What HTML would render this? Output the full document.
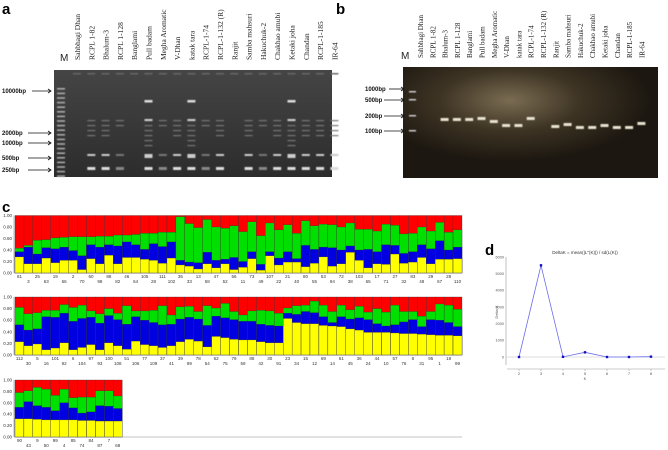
<!DOCTYPE html>
<html><head><meta charset="utf-8">
<style>
html,body{margin:0;padding:0;background:#fff;width:668px;height:450px;overflow:hidden}
svg{display:block;font-family:"Liberation Sans",sans-serif}
.ser{font-family:"Liberation Serif",serif}
</style></head>
<body>
<svg id="fig" width="668" height="450" viewBox="0 0 668 450">
<defs>
<radialGradient id="glow" cx="0.42" cy="0.3" r="0.55">
<stop offset="0" stop-color="#7a6c52"/><stop offset="0.5" stop-color="#3e3424"/><stop offset="1" stop-color="#1c1710"/>
</radialGradient>
<linearGradient id="gelA" x1="0" y1="0" x2="0" y2="1">
<stop offset="0" stop-color="#454545"/><stop offset="1" stop-color="#2c2c2c"/>
</linearGradient>
<filter id="soft" x="-20%" y="-50%" width="140%" height="200%"><feGaussianBlur stdDeviation="0.5"/></filter>
</defs>
<text x="2" y="14" font-size="15" font-weight="bold">a</text>
<text x="336" y="14" font-size="15" font-weight="bold">b</text>
<text x="2" y="212" font-size="15" font-weight="bold">c</text>
<text x="485" y="255" font-size="15" font-weight="bold">d</text>
<g id="gA"></g>
<g id="gB"></g>
<g id="gC"></g>
<g id="gD"></g>
</svg>
<script>
const lanesA=["Sahbhagi Dhan","RCPL 1-82","Bhalum-3","RCPL 1-128","Banglami","Pull badam","Megha Aromatic","V-Dhan","katak tara","RCPL-1-74","RCPL-1-132 (R)","Ranjit","Samba mahsuri","Hakuchuk-2","Chakhao amubi","Ketaki joha","Chandan","RCPL-1-185","IR-64"];
const lanesB=lanesA;
const ladderA=["10000bp","2000bp","1000bp","500bp","250bp"];
const ladderB=["1000bp","500bp","200bp","100bp"];
const row1Labels=[81,3,25,63,19,66,2,70,60,98,88,82,46,64,105,28,111,102,35,33,13,58,47,52,56,11,73,49,107,22,21,40,80,55,53,94,72,38,103,65,17,71,27,32,83,48,29,67,28,110];
const row1Yellow=[.28,.16,.16,.26,.18,.22,.22,.06,.25,.16,.31,.16,.27,.27,.24,.22,.17,.26,.14,.12,.07,.16,.09,.16,.06,.10,.25,.05,.30,.14,.19,.19,.11,.17,.28,.12,.16,.36,.22,.09,.16,.15,.33,.17,.19,.27,.16,.24,.24,.25];
const row1Blue=[.37,.45,.33,.44,.42,.45,.39,.30,.49,.45,.49,.47,.54,.49,.41,.51,.46,.54,.22,.19,.18,.36,.22,.24,.27,.20,.37,.15,.37,.26,.37,.25,.48,.41,.45,.44,.40,.47,.40,.41,.37,.49,.48,.34,.37,.49,.42,.56,.40,.45];
const row1Green=[.43,.48,.57,.58,.61,.62,.63,.63,.63,.64,.64,.66,.66,.67,.69,.69,.71,.71,.98,.86,.79,.93,.80,.78,.82,.72,.89,.65,.87,.75,.84,.69,.91,.82,.85,.84,.80,.87,.76,.76,.73,.85,.83,.68,.69,.80,.73,.88,.71,.75];
const row2Labels=[112,30,5,16,101,92,6,104,97,93,100,108,51,106,77,109,37,41,39,89,78,54,62,75,79,59,88,42,30,91,23,34,15,12,69,14,61,45,36,24,44,10,57,76,8,31,95,1,18,99];
const row2Yellow=[.23,.16,.19,.09,.12,.21,.09,.13,.18,.09,.21,.16,.10,.24,.18,.16,.13,.16,.23,.27,.24,.14,.32,.30,.27,.26,.26,.23,.21,.21,.63,.56,.54,.54,.51,.50,.49,.45,.43,.39,.39,.39,.38,.37,.37,.36,.35,.34,.34,.33];
const row2Blue=[.52,.43,.45,.66,.65,.72,.58,.63,.65,.55,.68,.61,.53,.66,.60,.56,.52,.53,.62,.65,.62,.51,.67,.64,.61,.58,.58,.53,.51,.50,.72,.70,.75,.73,.66,.56,.66,.62,.64,.61,.54,.50,.52,.57,.61,.49,.61,.60,.56,.49];
const row2Green=[.82,.71,.73,.77,.77,.87,.82,.86,.76,.71,.80,.72,.85,.76,.76,.77,.85,.69,.83,.84,.75,.85,.81,.89,.75,.69,.76,.77,.76,.72,.81,.85,.86,.93,.86,.75,.86,.78,.84,.74,.80,.74,.86,.75,.75,.67,.75,.88,.86,.79];
const row3Labels=[90,43,9,50,99,4,85,74,84,87,7,68];
const row3Yellow=[.32,.32,.31,.30,.30,.30,.30,.29,.29,.28,.28,.28];
const row3Blue=[.52,.62,.55,.52,.46,.60,.51,.42,.44,.55,.54,.50];
const row3Green=[.78,.81,.87,.84,.73,.84,.69,.70,.70,.81,.81,.72];
const yTicks=["0.00","0.20","0.40","0.60","0.80","1.00"];
const kValues=[2,3,4,5,6,7,8];
const deltaK=[0,5500,10,280,0,0,20];
const dkTicks=[0,1000,2000,3000,4000,5000,6000];

const NS="http://www.w3.org/2000/svg";
function mk(p,tag,attrs,txt){const e=document.createElementNS(NS,tag);for(const k in attrs)e.setAttribute(k,attrs[k]);if(txt!==undefined)e.textContent=txt;p.appendChild(e);return e;}

(function(){
const g=document.getElementById('gA');
const x0=54,y0=70,w=278,h=107;
let r=mk(g,'rect',{x:x0,y:y0,width:w,height:h,fill:'url(#gelA)'});

let m=mk(g,'text',{x:60,y:61,'font-size':10,fill:'#222'},'M');

const bg=mk(g,'g',{filter:'url(#soft)'});
for(let i=0;i<20;i++){mk(bg,'rect',{x:57,y:y0+18+i*4.6,width:8,height:1.6,fill:'#aaa'});}
const laddY=[91,133,143,158,170];
ladderA.forEach((t,i)=>{
 let tx=mk(g,'text',{x:2,y:laddY[i]+2,'font-size':6,'font-weight':'bold',fill:'#111'},t);
 
 mk(g,'line',{x1:t.length>6?32:28,y1:laddY[i],x2:51,y2:laddY[i],stroke:'#111','stroke-width':0.8});
 mk(g,'path',{d:`M48 ${laddY[i]-2}L51 ${laddY[i]}L48 ${laddY[i]+2}`,stroke:'#111',fill:'none','stroke-width':0.8});
});
const bright=[0,2,2,1,0,3,1,2,3,1,2,0,2,1,2,3,2,2,2];
lanesA.forEach((n,i)=>{
 const cx=77+i*14.3;
 let t=mk(g,'text',{class:'ser',x:0,y:0,'font-size':7.5,fill:'#222',transform:`translate(${cx+3},60) rotate(-90)`},n);
 
 mk(bg,'rect',{x:cx-4,y:y0+3,width:8,height:1.5,fill:'#666'});
 const b=bright[i];
 if(b>0){
  mk(bg,'rect',{x:cx-4,y:167,width:8,height:3,fill:b>1?'#ddd':'#888'});
  mk(bg,'rect',{x:cx-4,y:154,width:8,height:b>2?4:2,fill:b>1?'#ccc':'#777'});
  for(let k=0;k<b*2;k++)mk(bg,'rect',{x:cx-4,y:120+k*5,width:8,height:1.2,fill:'#777'});
  if(b>2){mk(bg,'rect',{x:cx-4,y:100,width:8,height:2.5,fill:'#ddd'});mk(bg,'rect',{x:cx-4,y:119,width:8,height:2,fill:'#ccc'});}
 }
});
})();

(function(){
const g=document.getElementById('gB');
const x0=403,y0=67,w=255,h=111;
let r=mk(g,'rect',{x:x0,y:y0,width:w,height:h,fill:'url(#glow)'});

let m=mk(g,'text',{x:401,y:59,'font-size':10,fill:'#222'},'M');

const laddY=[89,100,116,131];
const bg=mk(g,'g',{filter:'url(#soft)'});
ladderB.forEach((t,i)=>{
 let tx=mk(g,'text',{x:365,y:laddY[i]+2,'font-size':6,'font-weight':'bold',fill:'#111'},t);
 
 mk(g,'line',{x1:t.length>5?389:384,y1:laddY[i],x2:404,y2:laddY[i],stroke:'#111','stroke-width':0.8});
 mk(g,'path',{d:`M401 ${laddY[i]-2}L404 ${laddY[i]}L401 ${laddY[i]+2}`,stroke:'#111',fill:'none','stroke-width':0.8});
 mk(bg,'rect',{x:409,y:laddY[i]+(i==0?2:-1),width:7,height:1.5,fill:'#ccc'});
});
const bandY=[0,0,118,118,118,117,120,124,124,117,0,125,123,126,126,124,126,126,122];
lanesB.forEach((n,i)=>{
 const cx=420+i*12.3;
 let t=mk(g,'text',{class:'ser',x:0,y:0,'font-size':7,fill:'#222',transform:`translate(${cx+3},58) rotate(-90)`},n);
 
 if(bandY[i])mk(bg,'rect',{x:cx-4,y:bandY[i],width:8,height:3,fill:'#e8e2d0'});
});
})();

(function(){
const g=document.getElementById('gC');
const rows=[
 {L:row1Labels,Y:row1Yellow,B:row1Blue,G:row1Green,top:215.5,bot:273,x0:15},
 {L:row2Labels,Y:row2Yellow,B:row2Blue,G:row2Green,top:297,bot:355,x0:15},
 {L:row3Labels,Y:row3Yellow,B:row3Blue,G:row3Green,top:380,bot:437,x0:15}];
const bw=8.94;
rows.forEach((R,ri)=>{
 const sy=v=>R.bot-v*(R.bot-R.top);
 const xs=i=>R.x0+i*bw;
 R.L.forEach((lab,i)=>{
  const x=xs(i);
  let e;
  e=mk(g,'rect',{x:x,y:R.top,width:bw,height:R.bot-R.top,fill:'#ff0000',stroke:'#333','stroke-width':0.3});
  
  e=mk(g,'rect',{x:x,y:sy(R.G[i]),width:bw,height:sy(0)-sy(R.G[i]),fill:'#00e000',stroke:'#333','stroke-width':0.3});
  
  e=mk(g,'rect',{x:x,y:sy(R.B[i]),width:bw,height:sy(0)-sy(R.B[i]),fill:'#0000e0',stroke:'#333','stroke-width':0.3});
  
  e=mk(g,'rect',{x:x,y:sy(R.Y[i]),width:bw,height:sy(0)-sy(R.Y[i]),fill:'#ffff00',stroke:'#333','stroke-width':0.3});
  
  e=mk(g,'text',{x:x+bw/2,y:R.bot+(i%2?10:5),'font-size':4.5,'text-anchor':'middle',fill:'#333'},String(lab));
  
 });
 mk(g,'line',{x1:14,y1:R.bot,x2:R.x0+(ri==2?50:R.L.length)*bw,y2:R.bot,stroke:'#888','stroke-width':0.6});
 mk(g,'line',{x1:14,y1:R.top,x2:14,y2:R.bot,stroke:'#888','stroke-width':0.6});
 yTicks.forEach((t,k)=>{
  const v=parseFloat(t);
  let e=mk(g,'text',{x:12,y:sy(v)+1.5,'font-size':4.5,'text-anchor':'end',fill:'#333'},t);
  
 });
});
})();

(function(){
const g=document.getElementById('gD');
const sx=k=>519+(k-2)*22;
const sy=v=>357-v*(100/6000);
let e=mk(g,'text',{x:585,y:254,'font-size':4.5,'text-anchor':'middle',fill:'#333'},"DeltaK = mean(|L''(K)|) / sd(L(K))");

mk(g,'line',{x1:506,y1:257,x2:506,y2:365,stroke:'#999','stroke-width':0.6});
mk(g,'line',{x1:507,y1:369,x2:665,y2:369,stroke:'#999','stroke-width':0.6});
mk(g,'line',{x1:506,y1:sy(0),x2:665,y2:sy(0),stroke:'#bbb','stroke-width':0.5});
dkTicks.forEach(t=>{
 let e=mk(g,'text',{x:504,y:sy(t)+1.3,'font-size':3.8,'text-anchor':'end',fill:'#555'},String(t));
 
});
kValues.forEach(k=>{
 mk(g,'line',{x1:sx(k),y1:369,x2:sx(k),y2:371,stroke:'#999','stroke-width':0.5});
 let e=mk(g,'text',{x:sx(k),y:375,'font-size':4,'text-anchor':'middle',fill:'#555'},String(k));
 
});
e=mk(g,'text',{x:585,y:380,'font-size':4,'text-anchor':'middle',fill:'#555'},'K');

e=mk(g,'text',{x:0,y:0,'font-size':4,'text-anchor':'middle',fill:'#555',transform:'translate(498,312) rotate(-90)'},'Delta K');

const pts=kValues.map((k,i)=>sx(k)+','+sy(deltaK[i])).join(' ');
e=mk(g,'polyline',{points:pts,fill:'none',stroke:'#6b6bea','stroke-width':0.8});

kValues.forEach((k,i)=>{
 let p=mk(g,'rect',{x:sx(k)-1.2,y:sy(deltaK[i])-1.2,width:2.4,height:2.4,fill:'#1010c0'});
 
});
})();
</script>
</body></html>
